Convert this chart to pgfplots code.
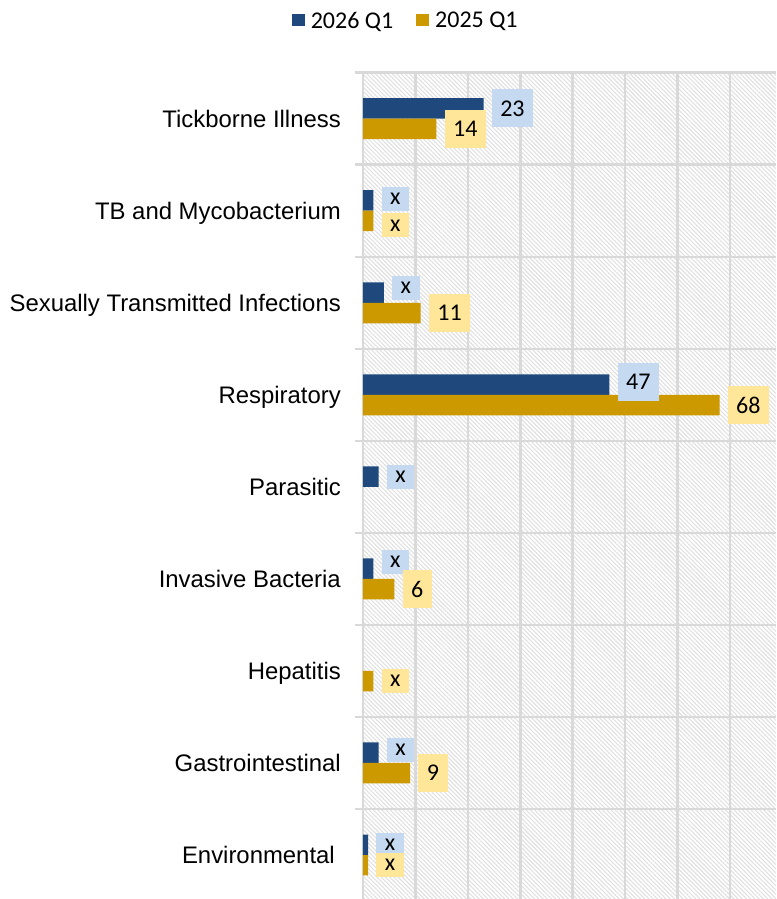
\documentclass[border=0pt]{standalone}
\usepackage{fontspec}
\setmainfont{Liberation Sans}
\newfontfamily\calibri{Carlito}
\usepackage{pgfplots}
\pgfplotsset{compat=1.18}
\usetikzlibrary{patterns.meta}
\definecolor{blueS}{RGB}{31,73,125}
\definecolor{goldS}{RGB}{204,153,0}
\definecolor{blueL}{RGB}{197,217,241}
\definecolor{goldL}{RGB}{255,230,153}
\definecolor{gridc}{RGB}{217,217,217}
\definecolor{hatchc}{RGB}{224,224,224}
\newcommand\catfont{\fontsize{23.9}{28}\selectfont}
\newcommand\lblfont{\calibri\fontsize{24}{28}\selectfont}
\pgfplotsset{
  lbl/.style n args={2}{forget plot, draw=none, mark=none, nodes near coords,
    point meta=explicit symbolic, nodes near coords align=horizontal,
    every node near coord/.append style={anchor=west, xshift=8pt, font=\lblfont,
      text=black, inner xsep=8.5pt, inner ysep=0pt, fill=#1, minimum height=#2}},
}
\begin{document}
\begin{tikzpicture}
\begin{axis}[
  name=ax, at={(0pt,0pt)}, anchor=south west,
  scale only axis, width=413pt, height=826.3pt,
  xmin=0, xmax=78.77, ymin=-0.478, ymax=8.5,
  axis line style={draw=none},
  xtick={0,10,...,70}, xticklabels={},
  ytick={0,1,2,3,4,5,6,7,8},
  yticklabels={Environmental\kern6pt,Gastrointestinal,Hepatitis,Invasive Bacteria,Parasitic,Respiratory,Sexually Transmitted Infections,TB and Mycobacterium,Tickborne Illness},
  minor ytick={-0.5,0.5,1.5,2.5,3.5,4.5,5.5,6.5,7.5,8.5},
  major tick length=0pt, minor tick length=8pt, tick align=outside,
  ytick pos=left, xtick pos=bottom,
  xmajorgrids, yminorgrids,
  major grid style={gridc, line width=2.5pt},
  minor grid style={gridc, line width=2.5pt},
  minor tick style={gridc, line width=2.5pt},
  yticklabel style={font=\catfont, inner sep=0pt, anchor=base east, xshift=-22pt, yshift=-8.5pt},
  axis background/.style={pattern={Lines[angle=-45,distance=3pt,line width=1.1pt]}, pattern color=hatchc},
  legend columns=2,
  legend style={draw=none, fill=none, at={(0.101,1.0626)}, anchor=center,
    font=\lblfont, nodes={inner sep=0pt},
    /tikz/every odd column/.append style={column sep=6pt},
    /tikz/every even column/.append style={column sep=23pt}},
  legend image code/.code={\fill[#1] (0pt,-5pt) rectangle (13pt,7pt);},
]
% 2026 Q1
\addplot[xbar, bar width=0.2227, bar shift=0.1113, fill=blueS, draw=none]
  coordinates {(1,0) (3,1) (2,3) (3,4) (47,5) (4,6) (2,7) (23,8)};
\addlegendentry{2026 Q1}
% 2025 Q1
\addplot[xbar, bar width=0.2227, bar shift=-0.1113, fill=goldS, draw=none]
  coordinates {(1,0) (9,1) (2,2) (6,3) (68,5) (11,6) (2,7) (14,8)};
\addlegendentry{2025 Q1}
% labels 2026
\addplot[lbl={blueL}{38pt}] coordinates {(23,8.111) [23] (47,5.137) [47]};
\addplot[lbl={blueL}{24pt}] coordinates {(2,7.128) [x] (4,6.164) [x] (3,4.111) [x] (2,3.187) [x] (3,1.141) [x] (1,0.111) [x]};
% labels 2025
\addplot[lbl={goldL}{38pt}] coordinates {(14,7.889) [14] (11,5.889) [11] (68,4.889) [68] (6,2.889) [6] (9,0.889) [9]};
\addplot[lbl={goldL}{24pt}] coordinates {(2,6.840) [x] (2,1.889) [x] (1,-0.108) [x]};
\end{axis}
\pgfresetboundingbox
\path[use as bounding box] (-363pt,0pt) rectangle (413pt,899pt);
\end{tikzpicture}
\end{document}
